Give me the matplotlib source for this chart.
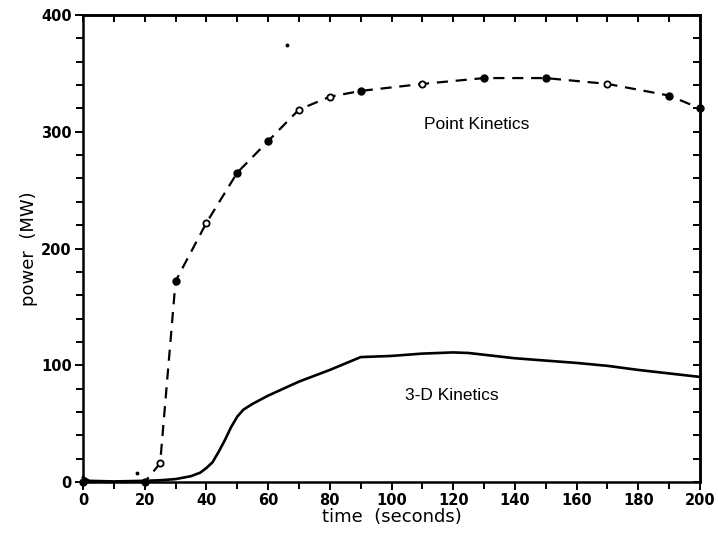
import matplotlib.pyplot as plt
from matplotlib.ticker import MultipleLocator

# Point kinetics (dashed, with markers)
pk_time = [0, 20, 25, 30, 40, 50, 60, 70, 80, 90, 110, 130, 150, 170, 190, 200]
pk_power = [0, 0, 16, 172, 222, 265, 292, 319, 330, 335, 341, 346, 346, 341, 331, 320]
pk_filled = [True, True, False, True, False, True, True, False, False, True,
             False, True, True, False, True, True]

# 3-D kinetics (solid)
td_time = [0, 2, 10, 20, 25, 30, 35, 38, 40, 42, 44, 46, 48, 50, 52, 55, 60, 65,
           70, 80, 90, 100, 110, 120, 125, 130, 140, 150, 160, 170, 180, 190, 200]
td_power = [4, 1, 0.5, 1, 1.5, 2.5, 5, 8, 12, 17, 26, 36, 47, 56, 62, 67, 74, 80,
            86, 96, 107, 108, 110, 111, 110.5, 109, 106, 104, 102, 99.5, 96, 93, 90]

# stray specks in the scan
speck_time = [17.5, 66]
speck_power = [8, 374]

fig = plt.figure(figsize=(7.18, 5.37), dpi=100)
ax = fig.add_axes([0.1156, 0.1024, 0.8594, 0.8696])

ax.plot(td_time, td_power, color='black', lw=1.9, solid_joinstyle='round',
        clip_on=False)
ax.plot(pk_time, pk_power, color='black', lw=1.6, dashes=(5, 3.5), clip_on=False)
for t, p, f in zip(pk_time, pk_power, pk_filled):
    if f:
        ax.plot(t, p, 'o', color='black', ms=5, clip_on=False, zorder=3)
    else:
        ax.plot(t, p, 'o', mfc='white', mec='black', mew=1.3, ms=4.5,
                clip_on=False, zorder=3)
ax.plot(speck_time, speck_power, 'o', color='black', ms=1.8, ls='none')

ax.text(127.5, 306, 'Point Kinetics', fontsize=12.5, family='Liberation Sans',
        ha='center', va='center')
ax.text(119.5, 74.5, '3-D Kinetics', fontsize=12.5, family='Liberation Sans',
        ha='center', va='center')

ax.set_xlim(0, 200)
ax.set_ylim(0, 400)
ax.xaxis.set_major_locator(MultipleLocator(20))
ax.xaxis.set_minor_locator(MultipleLocator(10))
ax.yaxis.set_major_locator(MultipleLocator(100))
ax.yaxis.set_minor_locator(MultipleLocator(20))

for s in ax.spines.values():
    s.set_linewidth(1.8)

ax.tick_params(which='both', direction='out', width=1.4, labelsize=10.5,
               top=False, right=False, pad=2)
ax.tick_params(which='major', length=6)
ax.tick_params(which='minor', length=5)
for lab in ax.get_xticklabels() + ax.get_yticklabels():
    lab.set_fontweight('bold')

# inward ticks on top and right
ax2 = ax.secondary_xaxis('top')
ax2.xaxis.set_major_locator(MultipleLocator(10))
ax2.tick_params(direction='in', length=5, width=1.4, labeltop=False)
ax3 = ax.secondary_yaxis('right')
ax3.yaxis.set_major_locator(MultipleLocator(20))
ax3.tick_params(direction='in', length=5, width=1.4, labelright=False)
for s in list(ax2.spines.values()) + list(ax3.spines.values()):
    s.set_linewidth(1.8)

ax.set_xlabel('time  (seconds)', fontsize=13, labelpad=0)
ax.set_ylabel('power  (MW)', fontsize=13, labelpad=2)

fig.savefig('out.png', dpi=100)
